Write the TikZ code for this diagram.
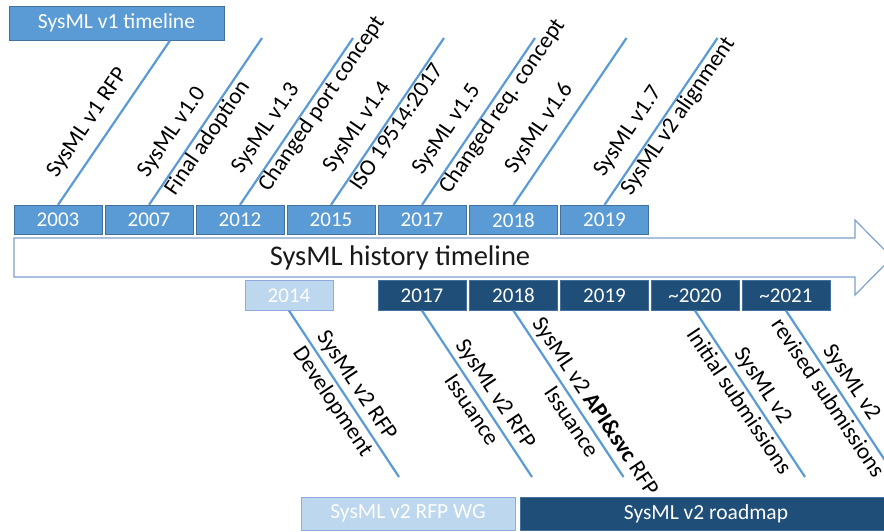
\documentclass[tikz,border=0pt]{standalone}
\usepackage{fontspec}
\setmainfont{Carlito}
\usetikzlibrary{calc}
\definecolor{accent}{HTML}{5B9BD5}
\definecolor{accentedge}{HTML}{41719C}
\definecolor{navy}{HTML}{1F4E79}
\definecolor{pale}{HTML}{BDD7EE}
\definecolor{paleedge}{HTML}{8FAADC}
\definecolor{arrowedge}{HTML}{7BA0CD}

% two stacked label lines with equal strut heights
\newcommand{\twoline}[2]{#1\strut\\#2\strut}

\begin{document}
\begin{tikzpicture}[x=1pt,y=1pt,
  box/.style={draw, line width=0.8pt, inner sep=0pt, text=white},
  yearfont/.style={font=\fontsize{21}{25}\selectfont},
  v1year/.style={box, yearfont, fill=accent, draw=accentedge, minimum width=88pt, minimum height=29.5pt},
  v2year/.style={box, yearfont, fill=navy, draw=accentedge, minimum width=88pt, minimum height=29.5pt},
  wgyear/.style={box, yearfont, fill=pale, draw=paleedge, minimum width=88pt, minimum height=29.5pt},
  conn/.style={draw=accent, line width=2.2pt},
  toplabel/.style={inner sep=0pt, align=left, anchor=west, rotate=55.76, font=\fontsize{23}{33}\selectfont},
  botlabel/.style={inner sep=0pt, align=center, anchor=center, rotate=-56.31, font=\fontsize{23}{29}\selectfont},
]
\clip (0,0) rectangle (884,-531);

% v1 heading
\node[box, fill=accent, draw=accentedge, minimum width=215pt, minimum height=34pt,
      font=\fontsize{21.5}{25}\selectfont] (v1title) at (116.5,-23) {SysML v1 timeline};

% main timeline arrow
\draw[draw=arrowedge, line width=1.2pt, fill=white]
  (14,-238) -- (855,-238) -- (855,-220) -- (892,-257.5) -- (855,-295) -- (855,-277) -- (14,-277) -- cycle;
\node[font=\fontsize{28.5}{32}\selectfont, text=black!90] (history) at (400,-257.5) {SysML history timeline};

% v1 years
\node[v1year] (t2003) at (58,-220) {2003};
\node[v1year] (t2007) at (149,-220) {2007};
\node[v1year] (t2012) at (240,-220) {2012};
\node[v1year] (t2015) at (331,-220) {2015};
\node[v1year] (t2017) at (422,-220) {2017};
\node[v1year] (t2018) at (513.5,-220) {2018};
\node[v1year] (t2019) at (604.5,-220) {2019};

% v2 years
\node[wgyear] (b2014) at (289,-295.5) {2014};
\node[v2year] (b2017) at (422,-295.5) {2017};
\node[v2year] (b2018) at (513.5,-295.5) {2018};
\node[v2year] (b2019) at (604.5,-295.5) {2019};
\node[v2year] (b2020) at (695,-295.5) {\textasciitilde2020};
\node[v2year] (b2021) at (786,-295.5) {\textasciitilde2021};

% free ends of the milestone lines
\coordinate (e2003) at (170,-40.5);
\coordinate (e2007) at (262,-38);
\coordinate (e2012) at (353,-38);
\coordinate (e2015) at (444,-38);
\coordinate (e2017) at (535,-38);
\coordinate (e2018) at (626.5,-38);
\coordinate (e2019) at (717.5,-38);
\coordinate (f2014) at (399,-477);
\coordinate (f2017) at (532,-477);
\coordinate (f2018) at (623.5,-477);
\coordinate (f2020) at (805,-477);
\coordinate (f2021) at (896,-477);

\foreach \y in {2003,2007,2012,2015,2017,2018,2019}
  \draw[conn] (t\y.north) -- (e\y);
\foreach \y in {2014,2017,2018,2020,2021}
  \draw[conn] (b\y.south) -- (f\y);

% v1 milestone labels
\node[toplabel] (l2003) at ($(t2003.north)!21pt!(e2003)!6pt!90:(e2003)$) {\twoline{SysML v1 RFP}{}};
\node[toplabel] (l2007) at ($(t2007.north)!21pt!(e2007)!6pt!90:(e2007)$) {\twoline{SysML v1.0}{Final adoption}};
\node[toplabel] (l2012) at ($(t2012.north)!26pt!(e2012)!6pt!90:(e2012)$) {\twoline{SysML v1.3}{Changed port concept}};
\node[toplabel] (l2015) at ($(t2015.north)!27pt!(e2015)!6pt!90:(e2015)$) {\twoline{SysML v1.4}{ISO 19514:2017}};
\node[toplabel] (l2017) at ($(t2017.north)!24pt!(e2017)!6pt!90:(e2017)$) {\twoline{SysML v1.5}{Changed req. concept}};
\node[toplabel] (l2018) at ($(t2018.north)!26pt!(e2018)!6pt!90:(e2018)$) {\twoline{SysML v1.6}{}};
\node[toplabel] (l2019) at ($(t2019.north)!22pt!(e2019)!6pt!90:(e2019)$) {\twoline{SysML v1.7}{SysML v2 alignment}};

% v2 milestone labels
\node[botlabel] (m2014) at ($(b2014.south)!100pt!(f2014)$) {\twoline{SysML v2 RFP}{Development}};
\node[botlabel] (m2017) at ($(b2017.south)!110pt!(f2017)$) {\twoline{SysML v2 RFP}{Issuance}};
\node[botlabel] (m2018) at ($(b2018.south)!125pt!(f2018)$) {\twoline{SysML v2 \textbf{API\&svc} RFP}{Issuance}};
\node[botlabel] (m2020) at ($(b2020.south)!100pt!(f2020)$) {\twoline{SysML v2}{Initial submissions}};
\node[botlabel] (m2021) at ($(b2021.south)!96pt!(f2021)$) {\twoline{SysML v2}{revised submissions}};

% v2 phase bars
\node[box, fill=pale, draw=paleedge, minimum width=214pt, minimum height=33pt,
      font=\fontsize{21.5}{25}\selectfont] (rfpwg) at (408,-513.5) {SysML v2 RFP WG};
\node[box, fill=navy, draw=accentedge, minimum width=372pt, minimum height=33pt,
      font=\fontsize{21.5}{25}\selectfont] (roadmap) at (706,-513.5) {SysML v2 roadmap};
\end{tikzpicture}
\end{document}
